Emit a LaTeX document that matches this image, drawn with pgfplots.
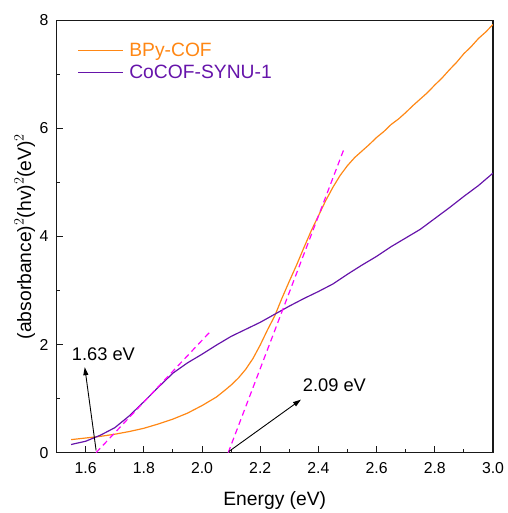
\documentclass[border=0pt]{standalone}
\usepackage{pgfplots}
\pgfplotsset{compat=1.18}
\usepackage{fontspec}
\setmainfont{Liberation Sans}
\usetikzlibrary{arrows.meta}
\definecolor{bpy}{RGB}{255,135,20}
\definecolor{cocof}{RGB}{102,20,170}
\definecolor{fitc}{RGB}{255,0,255}
\begin{document}
\begin{tikzpicture}
\begin{axis}[
  name=ax,
  scale only axis,
  width=440bp, height=436bp,
  xmin=1.5, xmax=3.0, ymin=0, ymax=8,
  xtick={1.6,1.8,2.0,2.2,2.4,2.6,2.8,3.0},
  ytick={0,2,4,6,8},
  minor xtick={1.7,1.9,2.1,2.3,2.5,2.7,2.9},
  minor ytick={1,3,5,7},
  tick align=inside,
  xtick pos=bottom, ytick pos=left,
  major tick length=7bp, minor tick length=3.5bp,
  every tick/.style={black!90, line width=0.9bp},
  axis line style={black!90, line width=1.1bp},
  /pgf/number format/assume math mode=true,
  xticklabel style={/pgf/number format/.cd, fixed, fixed zerofill, precision=1, /tikz/.cd, font=\fontsize{16}{18}\selectfont, anchor=center, inner sep=0pt, yshift=-15.4bp},
  yticklabel style={font=\fontsize{16}{18}\selectfont, anchor=east, inner sep=0pt, xshift=-8bp},
  xlabel={Energy (eV)},
  ylabel={(absorbance)$^{2}$(hv)$^{2}$(eV)$^{2}$},
  xlabel style={font=\fontsize{19.5}{22}\selectfont, at={(axis description cs:0.5,0)}, anchor=center, yshift=-48.5bp},
  ylabel style={font=\fontsize{19.5}{22}\selectfont, at={(axis description cs:-0.0727,0.5)}, anchor=center},
  legend style={at={(rel axis cs:0.0477,0.952)}, anchor=north west, draw=none, fill=none, inner sep=0pt, font=\fontsize{19.5}{22}\selectfont, row sep=3bp},
  legend cell align=left,
  legend image code/.code={\draw[#1, line width=1.2bp] (0bp,0bp) -- (45bp,0bp);},
]
\addplot[bpy, line width=1.2bp] coordinates {
(1.55,0.24) (1.60,0.27) (1.65,0.30) (1.70,0.34) (1.75,0.39) (1.80,0.45)
(1.85,0.53) (1.90,0.62) (1.95,0.73) (2.00,0.87) (2.05,1.03) (2.08,1.16)
(2.10,1.25) (2.125,1.38) (2.15,1.54) (2.175,1.74) (2.20,1.99) (2.225,2.27)
(2.25,2.53) (2.275,2.86) (2.30,3.17) (2.325,3.47) (2.35,3.79) (2.375,4.10)
(2.40,4.38) (2.425,4.66) (2.45,4.91) (2.475,5.13) (2.50,5.31) (2.525,5.46)
(2.55,5.58) (2.575,5.70) (2.60,5.83) (2.625,5.94) (2.65,6.07) (2.675,6.17)
(2.70,6.29) (2.725,6.42) (2.75,6.54) (2.775,6.66) (2.80,6.80) (2.825,6.93)
(2.85,7.08) (2.875,7.22) (2.90,7.38) (2.925,7.51) (2.95,7.66) (2.975,7.78)
(3.00,7.92)
};
\addlegendentry{\hspace{4bp}\textcolor{bpy}{BPy-COF}}
\addplot[cocof, line width=1.2bp] coordinates {
(1.55,0.15) (1.60,0.21) (1.636,0.29) (1.65,0.32) (1.70,0.46) (1.75,0.68)
(1.80,0.94) (1.85,1.21) (1.90,1.47) (1.95,1.66) (2.00,1.82) (2.05,1.99)
(2.10,2.15) (2.15,2.28) (2.20,2.41) (2.25,2.56) (2.30,2.71) (2.35,2.85)
(2.40,2.98) (2.45,3.12) (2.50,3.30) (2.55,3.47) (2.60,3.63) (2.65,3.81)
(2.70,3.97) (2.75,4.13) (2.80,4.33) (2.85,4.53) (2.90,4.74) (2.95,4.94)
(3.00,5.17)
};
\addlegendentry{\hspace{4bp}\textcolor{cocof}{CoCOF-SYNU-1}}
\addplot[fitc, line width=1.2bp, dash pattern=on 6bp off 4bp, forget plot] coordinates {(1.636,0) (2.032,2.26)};
\addplot[fitc, line width=1.2bp, dash pattern=on 6bp off 4bp, forget plot] coordinates {(2.09,0) (2.486,5.59)};
\draw[black, line width=0.9bp, -{Triangle[length=8bp,width=5bp]}] (axis cs:1.636,0.04) -- (axis cs:1.597,1.58);
\draw[black, line width=0.9bp, -{Triangle[length=8bp,width=5bp]}] (axis cs:2.092,0.02) -- (axis cs:2.34,0.98);
\node[anchor=west, inner sep=0pt, font=\fontsize{18.5}{20}\selectfont] at (axis cs:1.552,1.82) {1.63 eV};
\node[anchor=west, inner sep=0pt, font=\fontsize{18.5}{20}\selectfont] at (axis cs:2.346,1.25) {2.09 eV};
\end{axis}
\path ([xshift=-57bp,yshift=-56.7bp]ax.south west) rectangle ([xshift=15bp,yshift=20.3bp]ax.north east);
\end{tikzpicture}
\end{document}
